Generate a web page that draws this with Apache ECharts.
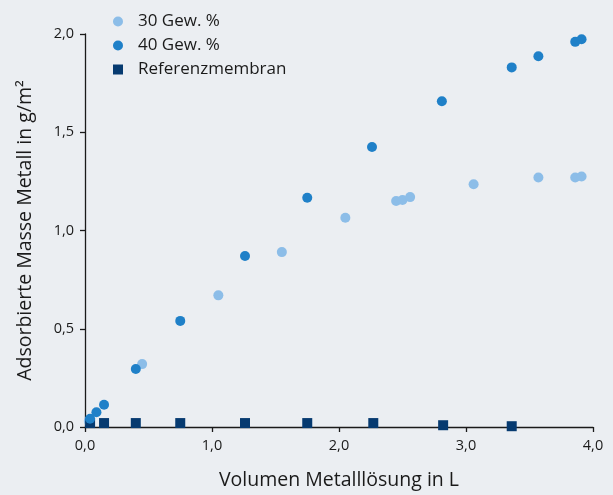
<!DOCTYPE html>
<html>
<head>
<meta charset="utf-8">
<script src="https://cdn.jsdelivr.net/npm/echarts@6/dist/echarts.min.js"></script>
<style>
  html, body { margin: 0; padding: 0; background: #ebeef2; }
  #chart { width: 613px; height: 495px; }
</style>
</head>
<body>
<div id="chart"></div>
<script>
// Volumen Metalllösung (L) und adsorbierte Masse (g/m²)
const seriesNames = ['30 Gew. %', '40 Gew. %', 'Referenzmembran'];

const volume30 = [0.03, 0.45, 1.05, 1.55, 2.05, 2.45, 2.50, 2.56, 3.06, 3.57, 3.86, 3.91];
const mass30   = [0.03, 0.32, 0.67, 0.89, 1.065, 1.15, 1.155, 1.17, 1.235, 1.27, 1.27, 1.275];

const volume40 = [0.04, 0.09, 0.15, 0.40, 0.75, 1.26, 1.75, 2.26, 2.81, 3.36, 3.57, 3.86, 3.91];
const mass40   = [0.042, 0.075, 0.113, 0.295, 0.54, 0.87, 1.167, 1.425, 1.658, 1.83, 1.887, 1.96, 1.973];

const volumeRef = [0.04, 0.15, 0.40, 0.75, 1.26, 1.75, 2.27, 2.82, 3.36];
const massRef   = [0.02, 0.02, 0.02, 0.02, 0.02, 0.02, 0.02, 0.009, 0.004];

const xTicks = [0, 1, 2, 3, 4];
const yTicks = [0, 0.5, 1, 1.5, 2];

const colors = ['#8cbde8', '#1f80c8', '#063a70'];
const fontFamily = '"Open Sans", "Noto Sans", sans-serif';
const fmt = v => v.toFixed(1).replace('.', ',');

const pairs = (xs, ys) => xs.map((x, i) => [x, ys[i]]);

const chart = echarts.init(document.getElementById('chart'), null, { renderer: 'canvas' });

const axisCommon = {
  axisLine: { show: true, lineStyle: { color: '#1a1a1a', width: 1.3 } },
  axisTick: { show: true, inside: false, length: 5, lineStyle: { color: '#1a1a1a', width: 1.3 } },
  splitLine: { show: false },
  axisLabel: { color: '#1a1a1a', fontSize: 14.5, fontFamily, formatter: fmt, margin: 11 },
  nameTextStyle: { color: '#1a1a1a', fontSize: 19.5, fontFamily }
};

chart.setOption({
  backgroundColor: '#ebeef2',
  animation: false,
  color: colors,
  grid: { left: 85, right: 20, top: 34, bottom: 68 },
  legend: {
    orient: 'vertical',
    left: 108,
    top: 8,
    itemGap: 7,
    itemWidth: 10,
    itemHeight: 10,
    textStyle: { color: '#1a1a1a', fontSize: 17, fontFamily, padding: [0, 0, 0, 10] },
    data: [
      { name: seriesNames[0], icon: 'circle' },
      { name: seriesNames[1], icon: 'circle' },
      { name: seriesNames[2], icon: 'rect' }
    ]
  },
  xAxis: Object.assign({}, axisCommon, {
    type: 'value',
    min: xTicks[0],
    max: xTicks[xTicks.length - 1],
    interval: 1,
    name: 'Volumen Metalllösung in L',
    nameLocation: 'middle',
    nameGap: 43
  }),
  yAxis: Object.assign({}, axisCommon, {
    type: 'value',
    min: yTicks[0],
    max: yTicks[yTicks.length - 1],
    interval: 0.5,
    name: 'Adsorbierte Masse Metall in g/m²',
    nameLocation: 'middle',
    nameGap: 50
  }),
  series: [
    {
      name: seriesNames[0], type: 'scatter', symbol: 'circle', symbolSize: 10,
      itemStyle: { color: colors[0], opacity: 1 }, z: 2,
      data: pairs(volume30, mass30)
    },
    {
      name: seriesNames[2], type: 'scatter', symbol: 'rect', symbolSize: 10,
      itemStyle: { color: colors[2], opacity: 1 }, z: 3,
      data: pairs(volumeRef, massRef)
    },
    {
      name: seriesNames[1], type: 'scatter', symbol: 'circle', symbolSize: 10,
      itemStyle: { color: colors[1], opacity: 1 }, z: 4,
      data: pairs(volume40, mass40)
    }
  ]
});
</script>
</body>
</html>
